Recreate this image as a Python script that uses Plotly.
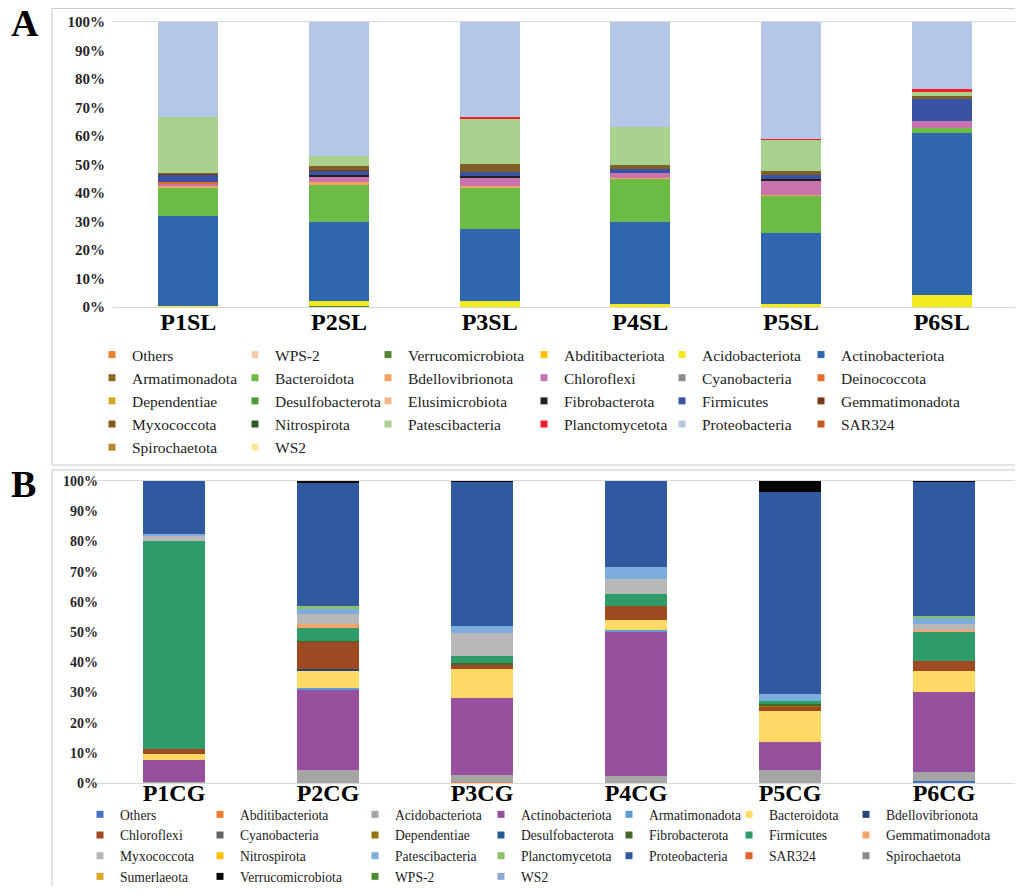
import plotly.graph_objects as go

# page body has an 8px default margin: the figure is sized to fit inside the window
OX, OY = 8, 8
FW, FH = 1023 - 2 * OX, 894 - 2 * OY
FONT = "Liberation Serif"

# ---------------- Panel A data ----------------
samples_A = ["P1SL", "P2SL", "P3SL", "P4SL", "P5SL", "P6SL"]
phyla_A = ["Others", "WPS-2", "Verrucomicrobiota", "Abditibacteriota", "Acidobacteriota",
           "Actinobacteriota", "Armatimonadota", "Bacteroidota", "Bdellovibrionota", "Chloroflexi",
           "Cyanobacteria", "Deinococcota", "Dependentiae", "Desulfobacterota", "Elusimicrobiota",
           "Fibrobacterota", "Firmicutes", "Gemmatimonadota", "Myxococcota", "Nitrospirota",
           "Patescibacteria", "Planctomycetota", "Proteobacteria", "SAR324", "Spirochaetota", "WS2"]
colors_A = ["#ED7D31", "#F8CBAD", "#548235", "#FFC000", "#F2EA1C",
            "#2E67B0", "#8C6A2A", "#6BBB45", "#F4A261", "#C774AF",
            "#8C8C8C", "#E46C2A", "#D4A72C", "#4E9A3A", "#F8B68B",
            "#222222", "#3852A4", "#7B3814", "#7F5F26", "#2F5A23",
            "#A9D18E", "#F21C24", "#B4C7E7", "#C55A20", "#B8892F", "#FFE699"]
#       Oth WPS Ver Abd Aci  Act   Arm Bac   Bde  Chl  Cya Dei Dep Des Elu Fib  Fir  Gem  Myx  Nit Pat   Pla  Pro   SAR Spi WS2
P1SL = [0, 0, 0.3, 0, 0.2, 31.5, 0, 10.0, 0.3, 1.2, 0, 0.3, 0, 0, 0, 0, 2.8, 0.2, 0.2, 0, 19.5, 0, 33.5, 0, 0, 0]
P2SL = [0, 0, 0.2, 0, 1.8, 28.0, 0, 13.1, 0.6, 2.0, 0, 0, 0, 0, 0, 0.6, 1.5, 0.3, 1.2, 0, 3.7, 0, 47.0, 0, 0, 0]
P3SL = [0, 0, 0, 0, 2.0, 25.3, 0, 14.8, 0.5, 2.7, 0, 0, 0, 0, 0, 0.7, 1.3, 0, 2.9, 0, 16.1, 0.3, 33.4, 0, 0, 0]
P4SL = [0, 0, 0, 0, 1.0, 28.8, 0, 15.2, 0.3, 1.7, 0, 0, 0, 0, 0, 0, 1.5, 0, 1.3, 0, 13.2, 0, 37.0, 0, 0, 0]
P5SL = [0, 0, 0, 0, 1.0, 24.9, 0, 13.1, 0.3, 5.2, 0, 0, 0, 0, 0, 0.3, 1.5, 0, 1.5, 0, 11.0, 0.2, 41.0, 0, 0, 0]
P6SL = [0, 0, 0, 0, 4.3, 56.8, 0, 1.6, 0, 2.5, 0, 0, 0, 0, 0, 0, 7.9, 0, 1.0, 0, 1.3, 1.2, 23.4, 0, 0, 0]
values_A = [P1SL, P2SL, P3SL, P4SL, P5SL, P6SL]

# ---------------- Panel B data ----------------
samples_B = ["P1CG", "P2CG", "P3CG", "P4CG", "P5CG", "P6CG"]
phyla_B = ["Others", "Abditibacteriota", "Acidobacteriota", "Actinobacteriota", "Armatimonadota",
           "Bacteroidota", "Bdellovibrionota", "Chloroflexi", "Cyanobacteria", "Dependentiae",
           "Desulfobacterota", "Fibrobacterota", "Firmicutes", "Gemmatimonadota", "Myxococcota",
           "Nitrospirota", "Patescibacteria", "Planctomycetota", "Proteobacteria", "SAR324",
           "Spirochaetota", "Sumerlaeota", "Verrucomicrobiota", "WPS-2", "WS2"]
colors_B = ["#4472C4", "#ED7D31", "#A5A5A5", "#96509E", "#5B9BD5",
            "#FFD966", "#264478", "#9E4A22", "#636363", "#997300",
            "#255E91", "#43682B", "#2E9B68", "#F4A56B", "#B8B8B8",
            "#FFC000", "#7CAEDD", "#8CC168", "#2F5A9F", "#E0622A",
            "#8B8B8B", "#D9A52B", "#050505", "#4E8C2F", "#8FA9DB"]
#       Oth Abd  Aci  Act  Arm  Bac   Bde  Chl  Cya Dep  Des Fib  Fir   Gem  Myx  Nit Pat  Pla  Pro   SAR Spi Sum Ver  WPS WS2
P1CG = [0, 0, 0.3, 7.4, 0, 1.9, 0, 1.5, 0, 0, 0, 0, 69.0, 0, 1.9, 0, 0.5, 0, 17.5, 0, 0, 0, 0, 0, 0]
P2CG = [0, 0, 4.3, 26.7, 0.5, 5.9, 0.4, 9.0, 0, 0, 0, 0.3, 4.1, 1.3, 3.6, 0, 1.5, 1.0, 40.9, 0, 0, 0, 0.5, 0, 0]
P3CG = [0, 0.2, 2.6, 25.4, 0, 9.4, 0, 1.6, 0, 0, 0, 0.6, 2.1, 0, 7.9, 0, 2.2, 0, 47.7, 0, 0, 0, 0.3, 0, 0]
P4CG = [0, 0, 2.3, 48.0, 0.3, 3.5, 0, 4.6, 0, 0, 0, 0, 4.0, 0, 4.7, 0, 4.1, 0, 28.5, 0, 0, 0, 0, 0, 0]
P5CG = [0, 0, 4.3, 9.4, 0, 10.2, 0, 1.3, 0, 0.6, 0, 0.4, 1.0, 0, 0, 0, 2.3, 0, 66.9, 0, 0, 0, 3.6, 0, 0]
P6CG = [0.8, 0, 3.0, 26.2, 0, 7.0, 0, 3.3, 0, 0, 0, 0, 9.9, 0.6, 1.9, 0, 2.2, 0.3, 44.5, 0, 0, 0, 0.3, 0, 0]
values_B = [P1CG, P2CG, P3CG, P4CG, P5CG, P6CG]

yticks = [0, 10, 20, 30, 40, 50, 60, 70, 80, 90, 100]
ytick_labels = ["0%", "10%", "20%", "30%", "40%", "50%", "60%", "70%", "80%", "90%", "100%"]

# legend column text-start positions (window px)
legcols_A = [132, 275, 408, 564, 702, 841]
legcols_B = [120, 240, 395, 521, 649, 769, 886]


def px(x):
    """window x pixel -> paper fraction"""
    return (x - OX) / FW


def py(y):
    """window y pixel -> paper fraction"""
    return 1 - (y - OY) / FH


def xdomain(left, right):
    right_vis = min(right, OX + FW)
    unit = (right - left) / 6.0
    return [px(left), px(right_vis)], [-0.5, -0.5 + (right_vis - left) / unit]


fig = go.Figure()


def add_panel(samples, phyla, colors, values, xa, ya, leg_ids):
    ncol = len(leg_ids)
    for i, (name, col) in enumerate(zip(phyla, colors)):
        fig.add_trace(go.Bar(
            x=samples, y=[v[i] for v in values], name=name,
            marker=dict(color=col, line=dict(width=0)),
            xaxis=xa, yaxis=ya, showlegend=False,
        ))
    for i, (name, col) in enumerate(zip(phyla, colors)):
        fig.add_trace(go.Scatter(
            x=[None], y=[None], mode="markers", name=name,
            marker=dict(symbol="square", size=7, color=col),
            xaxis=xa, yaxis=ya, showlegend=True, legend=leg_ids[i % ncol],
        ))


ids_A = ["legend"] + [f"legend{k}" for k in range(2, 7)]
ids_B = [f"legend{k}" for k in range(7, 14)]

add_panel(samples_A, phyla_A, colors_A, values_A, "x", "y", ids_A)
add_panel(samples_B, phyla_B, colors_B, values_B, "x2", "y2", ids_B)

domA, rngA = xdomain(113, 1017)
domB, rngB = xdomain(97, 1021)

layout = dict(
    template="none",
    width=FW, height=FH,
    margin=dict(l=0, r=0, t=0, b=0, autoexpand=False),
    paper_bgcolor="white", plot_bgcolor="white",
    barmode="stack", bargap=0.6,
    font=dict(family=FONT, color="#000000"),
    xaxis=dict(domain=domA, range=rngA, anchor="y", type="category",
               showline=True, linecolor="#D9D9D9", linewidth=1, mirror=True,
               ticks="", showgrid=False, zeroline=False, ticklabelstandoff=-7,
               tickfont=dict(family=FONT, size=24, color="#000000", weight="bold")),
    yaxis=dict(domain=[py(307), py(22)], anchor="x", range=[0, 100],
               tickmode="array", tickvals=yticks, ticktext=ytick_labels,
               showgrid=False, zeroline=False, showline=False,
               ticks="", ticklabelstandoff=7,
               tickfont=dict(family=FONT, size=15, color="#262626", weight="bold")),
    xaxis2=dict(domain=domB, range=rngB, anchor="y2", type="category",
                showline=True, linecolor="#D9D9D9", linewidth=1, mirror=True,
                ticks="", showgrid=False, zeroline=False, ticklabelstandoff=-12,
                tickfont=dict(family=FONT, size=24, color="#000000", weight="bold")),
    yaxis2=dict(domain=[py(783), py(481)], anchor="x2", range=[0, 100],
                tickmode="array", tickvals=yticks, ticktext=ytick_labels,
                showgrid=False, zeroline=False, showline=False,
                ticks="", ticklabelstandoff=-2,
                tickfont=dict(family=FONT, size=14, color="#262626", weight="bold")),
)

for k, lid in enumerate(ids_A):
    layout[lid] = dict(
        x=px(legcols_A[k] - 40), y=py(338), xanchor="left", yanchor="top",
        orientation="v", traceorder="normal", bgcolor="rgba(0,0,0,0)", borderwidth=0,
        itemwidth=30, tracegroupgap=0,
        font=dict(family=FONT, size=15.5, color="#222222"),
    )
for k, lid in enumerate(ids_B):
    layout[lid] = dict(
        x=px(legcols_B[k] - 40), y=py(799), xanchor="left", yanchor="top",
        orientation="v", traceorder="normal", bgcolor="rgba(0,0,0,0)", borderwidth=0,
        itemwidth=30, tracegroupgap=0,
        font=dict(family=FONT, size=13.6, color="#222222"),
    )

line_c = "#C9C9C9"
RIGHT = OX + FW + 5
layout["shapes"] = [
    # panel A frame
    dict(type="line", xref="paper", yref="paper", x0=px(52), x1=px(RIGHT), y0=py(8.5), y1=py(8.5),
         line=dict(color=line_c, width=1)),
    dict(type="line", xref="paper", yref="paper", x0=px(52), x1=px(52), y0=py(8.5), y1=py(465),
         line=dict(color=line_c, width=1)),
    dict(type="line", xref="paper", yref="paper", x0=px(52), x1=px(RIGHT), y0=py(465), y1=py(465),
         line=dict(color=line_c, width=1)),
    # panel B frame
    dict(type="line", xref="paper", yref="paper", x0=px(52), x1=px(RIGHT), y0=py(470), y1=py(470),
         line=dict(color=line_c, width=1)),
    dict(type="line", xref="paper", yref="paper", x0=px(52), x1=px(52), y0=py(470), y1=py(OY + FH + 5),
         line=dict(color=line_c, width=1)),
]

layout["annotations"] = [
    dict(text="A", xref="paper", yref="paper", x=px(24.5), y=py(23), xanchor="center", yanchor="middle",
         showarrow=False, font=dict(family=FONT, size=38, color="#000000", weight="bold")),
    dict(text="B", xref="paper", yref="paper", x=px(23.5), y=py(484), xanchor="center", yanchor="middle",
         showarrow=False, font=dict(family=FONT, size=38, color="#000000", weight="bold")),
]

fig.update_layout(**layout)
fig.write_html("out.html")
